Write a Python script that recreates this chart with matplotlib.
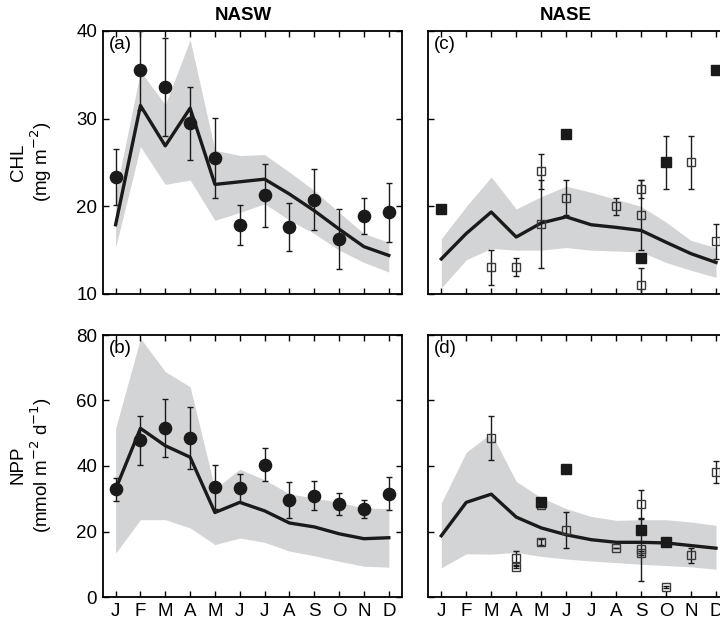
import numpy as np
import matplotlib
matplotlib.use("Agg")
import matplotlib.pyplot as plt

plt.rcParams['font.family'] = ['Liberation Sans', 'DejaVu Sans']

months = ['J', 'F', 'M', 'A', 'M', 'J', 'J', 'A', 'S', 'O', 'N', 'D']
x = np.arange(1, 13)

# (a) CHL NASW
chl_sw_model = [17.9, 31.5, 26.9, 31.2, 22.5, 22.8, 23.1, 21.4, 19.5, 17.4, 15.4, 14.4]
chl_sw_lo = [15.3, 26.8, 22.5, 23.0, 18.4, 19.3, 20.3, 18.4, 16.9, 15.0, 13.6, 12.5]
chl_sw_hi = [21.5, 35.4, 31.6, 39.0, 26.4, 25.8, 25.9, 23.9, 21.8, 19.3, 16.9, 15.9]
chl_sw_obs = [23.35, 35.5, 33.6, 29.45, 25.5, 17.9, 21.25, 17.65, 20.76, 16.3, 18.9, 19.3]
chl_sw_err = [3.2, 4.5, 5.6, 4.2, 4.6, 2.3, 3.6, 2.7, 3.5, 3.4, 2.0, 3.4]

# (b) NPP NASW
npp_sw_model = [32.9, 51.5, 46.2, 42.7, 25.8, 28.9, 26.3, 22.6, 21.4, 19.3, 17.8, 18.1]
npp_sw_lo = [13.4, 23.6, 23.6, 21.1, 16.0, 18.0, 16.7, 14.0, 12.6, 10.9, 9.4, 9.1]
npp_sw_hi = [51.5, 79.0, 68.8, 64.2, 33.0, 39.0, 35.8, 31.5, 30.2, 28.9, 27.2, 27.0]
npp_sw_obs = [32.9, 47.8, 51.7, 48.5, 33.6, 33.3, 40.4, 29.7, 30.9, 28.4, 26.8, 31.6]
npp_sw_err = [3.5, 7.5, 8.8, 9.4, 6.6, 4.2, 5.1, 5.5, 4.4, 3.3, 2.7, 5.0]

# (c) CHL NASE
chl_se_model = [14.0, 16.9, 19.35, 16.5, 18.1, 18.8, 17.9, 17.6, 17.25, 15.9, 14.6, 13.6]
chl_se_lo = [10.7, 13.9, 15.2, 15.0, 15.0, 15.3, 15.0, 14.9, 14.8, 13.6, 12.7, 11.9]
chl_se_hi = [16.3, 20.0, 23.35, 19.7, 21.1, 22.3, 21.6, 20.8, 20.0, 18.2, 16.1, 15.3]
chl_se_open_x = [3, 4, 5, 5, 6, 8, 9, 9, 9, 11, 12]
chl_se_open_y = [13.05, 13.05, 24.0, 18.0, 21.0, 20.0, 22.0, 19.0, 11.0, 25.0, 16.0]
chl_se_open_err = [2, 1, 2, 5, 2, 1, 1, 4, 2, 3, 2]
chl_se_fill_x = [1, 6, 9, 10, 12]
chl_se_fill_y = [19.7, 28.2, 14.1, 25.0, 35.6]
chl_se_fill_err = [0, 0, 0, 3, 0]

# (d) NPP NASE
npp_se_model = [18.7, 28.9, 31.4, 24.4, 21.1, 19.0, 17.5, 16.7, 16.7, 16.5, 15.7, 14.9]
npp_se_lo = [8.9, 13.2, 13.1, 13.6, 12.4, 11.6, 11.0, 10.5, 10.0, 9.6, 9.2, 8.5]
npp_se_hi = [28.7, 44.2, 50.0, 35.3, 30.3, 27.0, 24.6, 23.4, 23.6, 23.6, 22.9, 21.9]
npp_se_open_x = [3, 4, 4, 5, 5, 6, 8, 9, 9, 9, 10, 11, 12]
npp_se_open_y = [48.5, 11.8, 9.3, 28.0, 16.9, 20.6, 15.0, 28.3, 14.6, 13.4, 3.0, 12.7, 38.1]
npp_se_open_err = [6.8, 2.3, 0.5, 0.5, 0.9, 5.5, 0, 4.5, 9.6, 0.6, 0.3, 2.2, 3.4]
npp_se_fill_x = [5, 6, 9, 10]
npp_se_fill_y = [28.9, 39.2, 20.6, 16.7]

gray = '#d3d4d6'
fs = 13.5
W, H = 720, 625
fig = plt.figure(figsize=(7.2, 6.25), dpi=100)


def make_ax(l, t, r, b):
    return fig.add_axes([l / W, 1 - b / H, (r - l) / W, (b - t) / H])


axa = make_ax(102.7, 31, 401.7, 294)
axb = make_ax(102.7, 335, 401.7, 597)
axc = make_ax(428.3, 31, 729, 294)
axd = make_ax(428.3, 335, 729, 597)

for ax in [axa, axb, axc, axd]:
    ax.set_xlim(0.48, 12.52)
    ax.set_xticks(x)
    ax.set_xticklabels(months)
    ax.tick_params(direction='in', top=True, right=True, length=4, width=1,
                   labelsize=fs, pad=4)
    for s in ax.spines.values():
        s.set_linewidth(1.3)

for ax in [axa, axc]:
    ax.set_ylim(10, 40)
    ax.set_yticks([10, 20, 30, 40])
    ax.tick_params(labelbottom=False)
for ax in [axb, axd]:
    ax.set_ylim(0, 80)
    ax.set_yticks([0, 20, 40, 60, 80])
for ax in [axc, axd]:
    ax.tick_params(labelleft=False)

# model band and line
for ax, lo, hi, m in [(axa, chl_sw_lo, chl_sw_hi, chl_sw_model),
                      (axb, npp_sw_lo, npp_sw_hi, npp_sw_model),
                      (axc, chl_se_lo, chl_se_hi, chl_se_model),
                      (axd, npp_se_lo, npp_se_hi, npp_se_model)]:
    ax.fill_between(x, lo, hi, color=gray, lw=0, zorder=1)
    ax.plot(x, m, color='#1a1a1a', lw=2.4, zorder=3)

# NASW observations
for ax, obs, err in [(axa, chl_sw_obs, chl_sw_err), (axb, npp_sw_obs, npp_sw_err)]:
    ax.errorbar(x, obs, yerr=err, fmt='o', color='#1a1a1a', ms=8.8,
                ecolor='#1a1a1a', elinewidth=1, capsize=2.5, capthick=1, zorder=4)

# NASE observations
axc.errorbar(chl_se_open_x, chl_se_open_y, yerr=chl_se_open_err, fmt='s', ms=6.3,
             mfc='none', mec='#3a3a3a', mew=1, ecolor='#1a1a1a', elinewidth=1,
             capsize=2.5, capthick=1, zorder=4)
axc.errorbar(chl_se_fill_x, chl_se_fill_y, yerr=chl_se_fill_err, fmt='s', ms=6.8,
             color='#1a1a1a', ecolor='#1a1a1a', elinewidth=1, capsize=2.5,
             capthick=1, zorder=5)
axd.errorbar(npp_se_open_x, npp_se_open_y, yerr=npp_se_open_err, fmt='s', ms=6.3,
             mfc='none', mec='#3a3a3a', mew=1, ecolor='#1a1a1a', elinewidth=1,
             capsize=2.5, capthick=1, zorder=4)
axd.plot(npp_se_fill_x, npp_se_fill_y, 's', ms=6.8, color='#1a1a1a', zorder=5)

# panel letters
for ax, lab in [(axa, '(a)'), (axb, '(b)'), (axc, '(c)'), (axd, '(d)')]:
    ax.text(0.02, 0.98, lab, transform=ax.transAxes, fontsize=fs,
            ha='left', va='top')

axa.text((243 - 102.7) / (401.7 - 102.7), 1.025, 'NASW', transform=axa.transAxes,
         fontsize=fs, fontweight='bold', ha='center', va='bottom')
axc.text((566 - 428.3) / (729 - 428.3), 1.025, 'NASE', transform=axc.transAxes,
         fontsize=fs, fontweight='bold', ha='center', va='bottom')

fig.text(32 / W, 1 - 162 / H, 'CHL\n(mg m$^{-2}$)', rotation=90, fontsize=fs,
         ha='center', va='center', linespacing=1.1)
fig.text(32 / W, 1 - 465 / H, 'NPP\n(mmol m$^{-2}$ d$^{-1}$)', rotation=90,
         fontsize=fs, ha='center', va='center', linespacing=1.1)

fig.savefig('out.png', dpi=100)
